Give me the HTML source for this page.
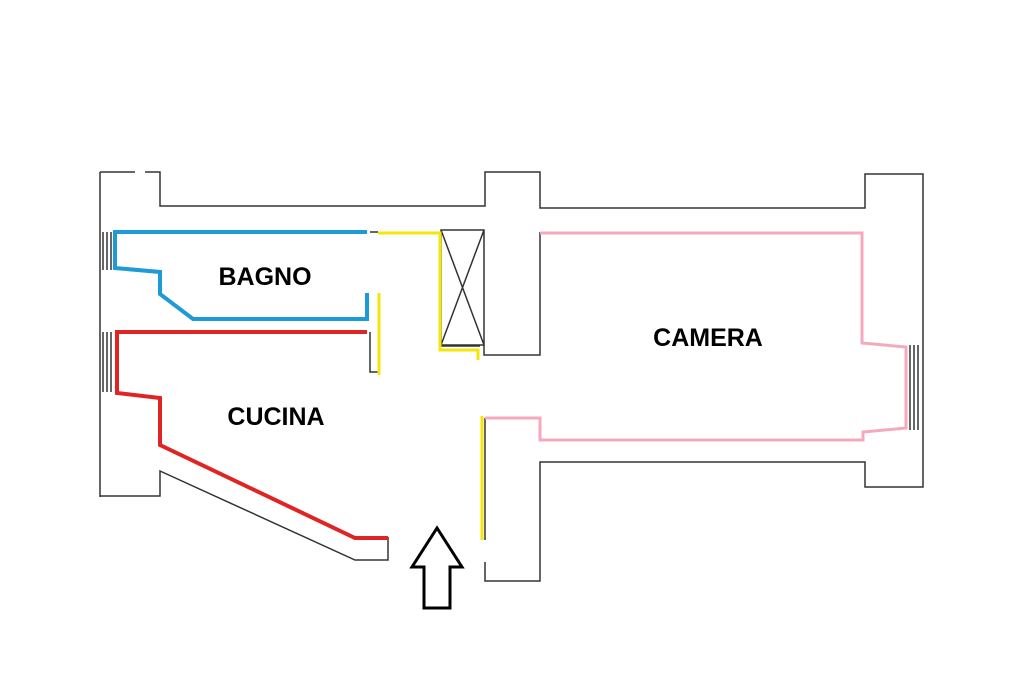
<!DOCTYPE html>
<html><head><style>body{margin:0;background:#fff}svg{display:block}</style></head><body>
<svg width="1024" height="683" viewBox="0 0 1024 683" xmlns="http://www.w3.org/2000/svg">
<g fill="none" stroke="#333" stroke-width="1.5">
<path d="M100 172V497"/>
<path d="M100 172H135M145 172H160V206H485V172H540V208H865V174H923V487H865V462H540V581H485V562"/>
<path d="M100 496H160V471L355 560H388V537"/>
<path d="M441 230H484V345H441Z M441 230L484 345 M484 230L441 345"/>
<path d="M441 346H480 M484 345V355H540V232"/>
<path d="M370 332V372H378"/>
<path d="M485 418V540"/>
<path d="M103 232V270M107 232V270M111 232V270M103 332V392M107 332V392M111 332V392"/>
<path d="M910 345V430M914 345V430M918 345V430"/>
<path d="M370 232H378"/>
</g>
<path d="M367 232H115V268L160 272V294L193 319H367V293" fill="none" stroke="#1e9ad6" stroke-width="4"/>
<path d="M367 332H117V393L160 398V445L355 538H388" fill="none" stroke="#e02424" stroke-width="4"/>
<path d="M379 293V375 M378 233H440V350H478V360 M482 416V540" fill="none" stroke="#f5e60a" stroke-width="3"/>
<path d="M540 233H862V343L906 347V428L863 432V440H540V418H485" fill="none" stroke="#f4a9bd" stroke-width="3"/>
<path d="M437 528L412 567H424V608H450V567H462Z" fill="#fff" stroke="#000" stroke-width="3" stroke-linejoin="miter"/>
<g font-family="Liberation Sans, sans-serif" font-weight="bold" font-size="25" text-anchor="middle" fill="#000">
<text x="265" y="285">BAGNO</text>
<text x="276" y="425">CUCINA</text>
<text x="708" y="346">CAMERA</text>
</g>
</svg>
</body></html>
